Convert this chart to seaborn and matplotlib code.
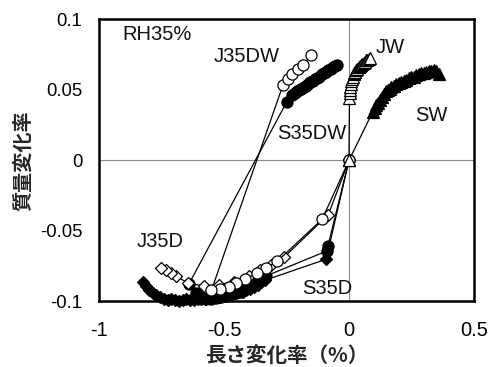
import matplotlib
matplotlib.use('Agg')
import matplotlib.pyplot as plt
import seaborn as sns

# ---------------- data ----------------
# S35D : filled diamonds (drying)
s35d_x = [0, -0.091, -0.337, -0.35, -0.365, -0.38, -0.395, -0.41, -0.425, -0.44, -0.455, -0.47,
          -0.485, -0.50, -0.515, -0.53, -0.545, -0.56, -0.575, -0.59, -0.605, -0.62, -0.635,
          -0.65, -0.665, -0.68, -0.695, -0.71, -0.725, -0.74, -0.755, -0.77, -0.785, -0.80,
          -0.812, -0.825]
s35d_y = [0, -0.070, -0.085, -0.0865, -0.088, -0.0895, -0.091, -0.092, -0.093, -0.0935, -0.094,
          -0.095, -0.095, -0.096, -0.0965, -0.097, -0.097, -0.0975, -0.098, -0.098, -0.0985,
          -0.099, -0.099, -0.0985, -0.099, -0.0995, -0.099, -0.0985, -0.099, -0.098, -0.097,
          -0.0955, -0.094, -0.092, -0.089, -0.086]

# S35DW : filled circles (drying then wetting)
s35dw_x = [0, -0.084, -0.086, -0.333, -0.35, -0.37, -0.39, -0.41, -0.43, -0.45, -0.47, -0.49,
           -0.51, -0.53, -0.55, -0.57, -0.59, -0.61, -0.64,
           -0.249, -0.226, -0.217, -0.208, -0.199, -0.190, -0.181, -0.172, -0.163, -0.154,
           -0.145, -0.136, -0.127, -0.118, -0.109, -0.100, -0.091, -0.082, -0.073, -0.064,
           -0.055, -0.047]
s35dw_y = [0, -0.0605, -0.064, -0.082, -0.085, -0.087, -0.089, -0.091, -0.093, -0.094, -0.095,
           -0.096, -0.097, -0.0975, -0.098, -0.098, -0.097, -0.094, -0.0875,
           0.0415, 0.0465, 0.048, 0.049, 0.050, 0.051, 0.052, 0.053, 0.0545, 0.0555, 0.0565,
           0.0575, 0.0585, 0.0595, 0.061, 0.062, 0.063, 0.064, 0.065, 0.066, 0.067, 0.068]

# SW : filled triangles
sw_x = [0, 0.095, 0.103, 0.11, 0.118, 0.125, 0.133, 0.14, 0.148, 0.155, 0.163, 0.17, 0.18,
        0.19, 0.20, 0.21, 0.22, 0.23, 0.24, 0.25, 0.26, 0.27, 0.28, 0.29, 0.30, 0.31, 0.32,
        0.33, 0.34, 0.35, 0.36]
sw_y = [0, 0.0345, 0.037, 0.039, 0.041, 0.043, 0.045, 0.047, 0.049, 0.050, 0.051, 0.052, 0.053,
        0.0545, 0.055, 0.056, 0.0565, 0.057, 0.0585, 0.059, 0.0595, 0.0605, 0.061, 0.062, 0.062,
        0.063, 0.0635, 0.0635, 0.064, 0.0635, 0.0615]

# J35D : open diamonds
j35d_x = [0, -0.083, -0.26, -0.31, -0.355, -0.40, -0.46, -0.52, -0.58, -0.645,
          -0.69, -0.71, -0.73, -0.75]
j35d_y = [0, -0.0385, -0.0687, -0.074, -0.078, -0.082, -0.086, -0.088, -0.089, -0.087,
          -0.082, -0.080, -0.078, -0.076]

# J35DW : open circles (drying then wetting)
j35dw_x = [0, -0.107, -0.287, -0.33, -0.366, -0.417, -0.45, -0.48, -0.515, -0.55,
           -0.264, -0.244, -0.226, -0.204, -0.184, -0.150]
j35dw_y = [0, -0.0416, -0.0715, -0.076, -0.080, -0.084, -0.087, -0.090, -0.091, -0.092,
           0.0535, 0.0576, 0.061, 0.065, 0.068, 0.0748]

# JW : open triangles
jw_x = [0, 0.002, 0.004, 0.005, 0.006, 0.008, 0.010, 0.013, 0.016, 0.019, 0.022, 0.026, 0.030,
        0.034, 0.039, 0.044, 0.049, 0.054, 0.059, 0.064, 0.069, 0.074, 0.079, 0.083]
jw_y = [0, 0.044, 0.048, 0.050, 0.052, 0.0545, 0.0565, 0.058, 0.0595, 0.061, 0.062, 0.063, 0.064,
        0.065, 0.066, 0.067, 0.068, 0.0685, 0.069, 0.070, 0.071, 0.0715, 0.072, 0.0725]

x_ticks = [-1, -0.5, 0, 0.5]
x_tick_labels = ['-1', '-0.5', '0', '0.5']
y_ticks = [-0.1, -0.05, 0, 0.05, 0.1]
y_tick_labels = ['-0.1', '-0.05', '0', '0.05', '0.1']

series_labels = ['J35DW', 'JW', 'SW', 'S35DW', 'J35D', 'S35D']
label_x = [-0.409, 0.167, 0.328, -0.147, -0.756, -0.085]
label_y = [0.074, 0.080, 0.032, 0.019, -0.0574, -0.0908]
rh_text = 'RH35%'
rh_x, rh_y = -0.905, 0.089

x_label = '長さ変化率（%）'
y_label = '質量変化率'

# ---------------- figure ----------------
sns.set_theme(style='white')
plt.rcParams['font.family'] = ['Liberation Sans', 'Noto Sans CJK JP', 'DejaVu Sans']

fig = plt.figure(figsize=(4.94, 3.67), dpi=100)
ax = fig.add_axes([0.2004, 0.1785, 0.759, 0.7684])

ax.axhline(0, color='#8a8a8a', lw=0.8, zorder=1)
ax.axvline(0, color='#8a8a8a', lw=0.8, zorder=1)

series = [
    (s35d_x, s35d_y, 'D', 6.5, 'black', 3),
    (s35dw_x, s35dw_y, 'o', 8.0, 'black', 4),
    (sw_x, sw_y, '^', 8.6, 'black', 5),
    (j35d_x, j35d_y, 'D', 6.0, 'white', 6),
    (j35dw_x, j35dw_y, 'o', 8.0, 'white', 7),
    (jw_x, jw_y, '^', 8.2, 'white', 8),
]
for xs, ys, mk, ms, fc, z in series:
    sns.lineplot(x=xs, y=ys, ax=ax, sort=False, estimator=None, color='black', lw=0.9,
                 marker=mk, markersize=ms, markerfacecolor=fc, markeredgecolor='black',
                 markeredgewidth=0.9, clip_on=False, zorder=z, legend=False)

ax.set_xlim(-1, 0.5)
ax.set_ylim(-0.1, 0.1)
ax.set_xticks(x_ticks)
ax.set_xticklabels(x_tick_labels)
ax.set_yticks(y_ticks)
ax.set_yticklabels(y_tick_labels)
ax.tick_params(axis='x', length=0, pad=14, labelsize=14.5, colors='black')
ax.tick_params(axis='y', length=0, pad=12, labelsize=13.3, colors='black')

for sp in ax.spines.values():
    sp.set_color('black')
    sp.set_linewidth(1.8)
    sp.set_zorder(10)

for t, xx, yy in zip(series_labels, label_x, label_y):
    ax.text(xx, yy, t, fontsize=14.5, ha='center', va='center', color='#111111', zorder=12)
ax.text(rh_x, rh_y, rh_text, fontsize=14.5, ha='left', va='center', color='#111111', zorder=12)

ax.set_xlabel(x_label, fontsize=14.8, fontweight='bold', family=['Noto Sans CJK JP'], labelpad=4)
ax.set_ylabel(y_label, fontsize=14.5, fontweight='bold', family=['Noto Sans CJK JP'], labelpad=5)

fig.savefig('out.png', dpi=100)
